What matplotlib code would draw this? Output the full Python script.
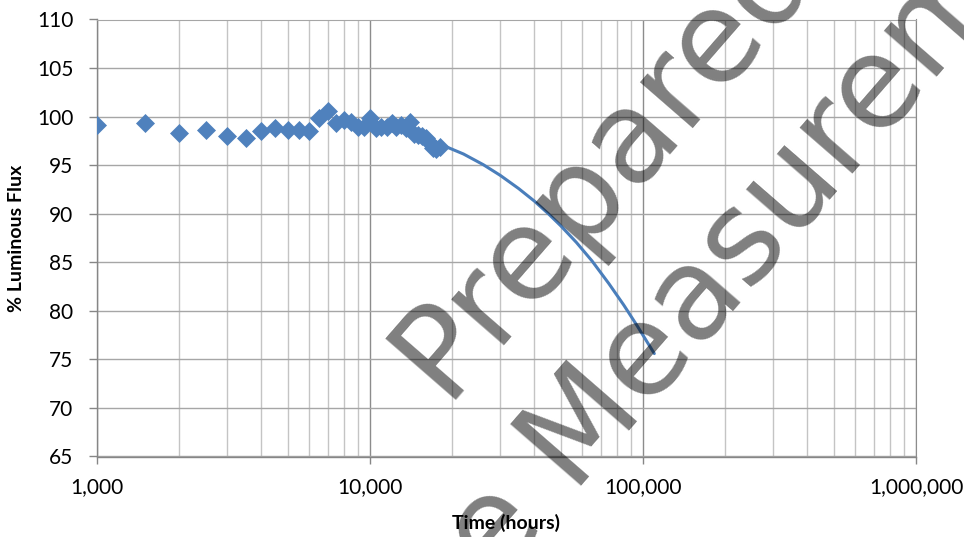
import matplotlib.pyplot as plt
from matplotlib.ticker import FuncFormatter, FixedLocator, LogLocator, NullFormatter

# measured luminous flux (hours, %)
hours = [1000, 1500, 2000, 2500, 3000, 3500, 4000, 4500, 5000, 5500, 6000,
         6500, 7000, 7500, 8000, 8500, 9000, 9500, 10000, 10500, 11000,
         11500, 12000, 12500, 13000, 13500, 14000, 14500, 15000, 15500,
         16000, 16500, 17000, 17500, 18000]
flux = [99.14, 99.31, 98.28, 98.59, 98.04, 97.80, 98.55, 98.83, 98.62, 98.62,
        98.52, 99.89, 100.55, 99.31, 99.65, 99.48, 98.90, 98.96, 99.83, 98.79,
        98.90, 98.95, 99.31, 98.96, 99.14, 98.80, 99.41, 98.21, 98.10, 98.00,
        97.77, 97.42, 96.74, 96.70, 96.84]

# projected curve
proj_hours = [18000, 19000, 22000, 26000, 30000, 35000, 40000, 45000, 50000,
              57000, 65000, 75000, 85000, 95000, 110000]
proj_flux = [97.15, 96.9, 96.15, 95.05, 93.95, 92.6, 91.3, 90.0, 88.75,
             87.05, 85.15, 82.8, 80.6, 78.5, 75.6]

y_ticks = [65, 70, 75, 80, 85, 90, 95, 100, 105, 110]
x_ticks = [1e3, 1e4, 1e5, 1e6]

W, H = 964, 537
fig = plt.figure(figsize=(W / 100, H / 100), dpi=100)
fig.patch.set_facecolor("white")
ax = fig.add_axes([97 / W, 1 - 456.5 / H, (916 - 97) / W, (456.5 - 19.5) / H])

ax.set_xscale("log")
ax.set_xlim(1e3, 1e6)
ax.set_ylim(65, 110)

ax.plot(proj_hours, proj_flux, color="#4A7EBB", lw=2.2, solid_capstyle="round",
        solid_joinstyle="round", zorder=3)
ax.plot(hours, flux, linestyle="none", marker="D", ms=9.2, color="#4F81BD",
        mec="#4F81BD", mew=0.5, zorder=4)

ax.xaxis.set_major_locator(FixedLocator(x_ticks))
ax.xaxis.set_minor_locator(LogLocator(base=10, subs=range(2, 10)))
ax.xaxis.set_minor_formatter(NullFormatter())
ax.xaxis.set_major_formatter(FuncFormatter(lambda v, p: f"{v:,.0f}"))
ax.set_yticks(y_ticks)

ax.grid(which="major", axis="y", color="#a6a6a6", lw=1.0)
ax.grid(which="major", axis="x", color="#8c8c8c", lw=1.0)
ax.grid(which="minor", axis="x", color="#c4c4c4", lw=1.0)
ax.set_axisbelow(True)

for side in ("left", "bottom"):
    ax.spines[side].set_color("#868686")
    ax.spines[side].set_linewidth(1.0)
ax.spines["top"].set_color("#a6a6a6")
ax.spines["right"].set_color("#8c8c8c")

ax.tick_params(axis="y", which="major", length=6, width=1.0, color="#868686", pad=11)
ax.tick_params(axis="x", which="major", length=5, width=1.0, color="#868686", pad=10)
ax.tick_params(axis="x", which="minor", length=0)
for lab in ax.get_xticklabels() + ax.get_yticklabels():
    lab.set_fontfamily("Lato")
    lab.set_fontsize(15)
    lab.set_color("black")

ax.set_xlabel("Time (hours)", fontfamily="Lato", fontsize=14, fontweight="bold", labelpad=12)
ax.set_ylabel("% Luminous Flux", fontfamily="Lato", fontsize=14, fontweight="bold", labelpad=9)

# semi-transparent watermark over the chart
wm = dict(rotation=49, rotation_mode="anchor", ha="left", va="baseline",
          fontsize=92, family="DejaVu Sans", color="black", alpha=0.5, zorder=10)
fig.text(444 / W, 1 - 400 / H, "Prepared", **wm)
fig.text(495 / W, 1 - 585 / H, "e Measurement", **wm)

fig.savefig("out.png", dpi=100)
